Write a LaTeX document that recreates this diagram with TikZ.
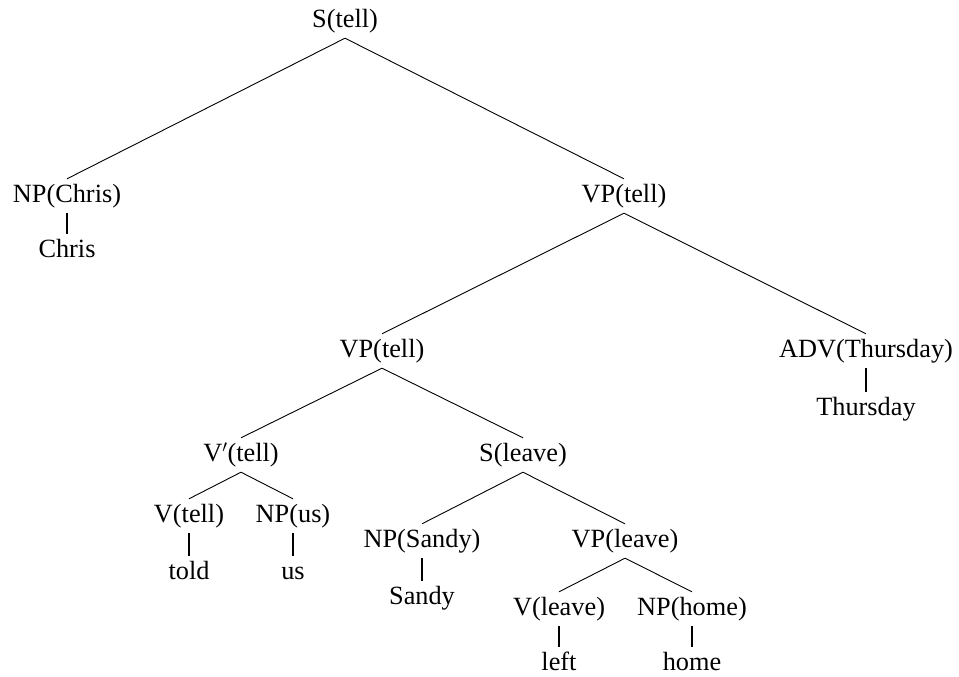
\documentclass[tikz,border=0pt]{standalone}
\usepackage{fontspec}
\setmainfont{Liberation Serif}

\tikzset{
  cat/.style={inner xsep=0pt, inner ysep=4.5pt, text height=19pt, text depth=6pt,
    font=\fontsize{26.3}{30}\selectfont},
  branch/.style={line width=0.9pt},
  leafline/.style={line width=2pt}
}

\begin{document}
\begin{tikzpicture}[x=1pt, y=-1pt]
	%%%%% START %%%%%
	\useasboundingbox (0,0) rectangle (959,677);
	
	% top level
	\node[cat] (s) at (345, 21) {S(tell)};
	\node[cat] (npchris) at (67, 196) {NP(Chris)};
	\node[cat] (chris) at (67, 251) {Chris};
	\node[cat] (vp) at (624, 196) {VP(tell)};
	
	% VP(tell) children
	\node[cat] (vpb) at (382, 351) {VP(tell)};
	\node[cat] (adv) at (866, 351) {ADV(Thursday)};
	\node[cat] (thursday) at (866, 409) {Thursday};
	
	% V'(tell) and S(leave)
	\node[cat] (vbar) at (241, 455) {V$'$(tell)};
	\node[cat] (sleave) at (523, 455) {S(leave)};
	\node[cat] (vtell) at (189, 516) {V(tell)};
	\node[cat] (npus) at (293, 516) {NP(us)};
	\node[cat] (told) at (189, 573) {told};
	\node[cat] (us) at (293, 573) {us};
	
	\node[cat] (npsandy) at (422, 541) {NP(Sandy)};
	\node[cat] (sandy) at (422, 598) {Sandy};
	\node[cat] (vpleave) at (625, 541) {VP(leave)};
	\node[cat] (vleave) at (559, 609) {V(leave)};
	\node[cat] (nphome) at (692, 609) {NP(home)};
	\node[cat] (left) at (559, 664) {left};
	\node[cat] (home) at (692, 664) {home};
	
	% branches
	\draw[branch] (s.south) -- (npchris.north);
	\draw[branch] (s.south) -- (vp.north);
	\draw[branch] (vp.south) -- (vpb.north);
	\draw[branch] (vp.south) -- (adv.north);
	\draw[branch] (vpb.south) -- (vbar.north);
	\draw[branch] (vpb.south) -- (sleave.north);
	\draw[branch] (vbar.south) -- (vtell.north);
	\draw[branch] (vbar.south) -- (npus.north);
	\draw[branch] (sleave.south) -- (npsandy.north);
	\draw[branch] (sleave.south) -- (vpleave.north);
	\draw[branch] (vpleave.south) -- (vleave.north);
	\draw[branch] (vpleave.south) -- (nphome.north);
	
	% words
	\draw[leafline] (npchris.south) -- (chris.north);
	\draw[leafline] (adv.south) -- (thursday.north);
	\draw[leafline] (vtell.south) -- (told.north);
	\draw[leafline] (npus.south) -- (us.north);
	\draw[leafline] (npsandy.south) -- (sandy.north);
	\draw[leafline] (vleave.south) -- (left.north);
	\draw[leafline] (nphome.south) -- (home.north);
	
	%%%%% END %%%%%
\end{tikzpicture}
\end{document}
